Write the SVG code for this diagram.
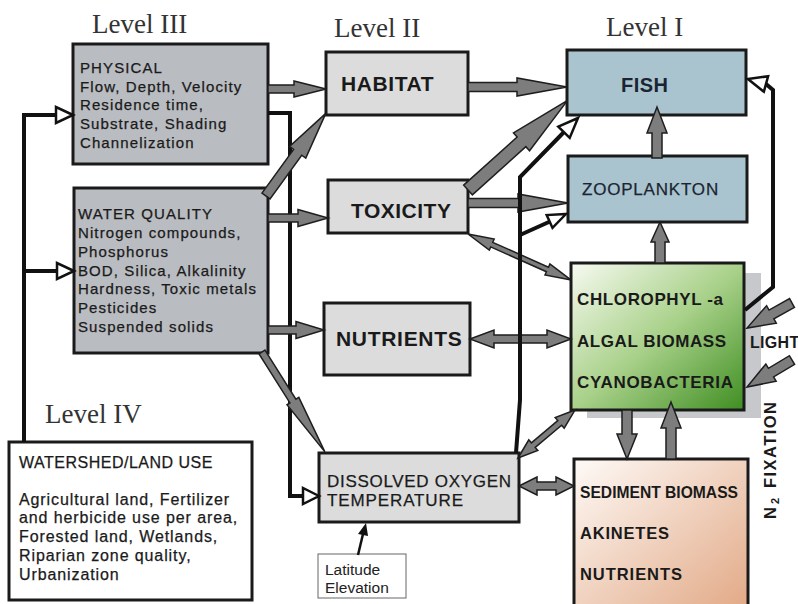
<svg xmlns="http://www.w3.org/2000/svg" width="798" height="604" viewBox="0 0 798 604">
<defs>
<linearGradient id="gAlg" x1="0" y1="0" x2="1" y2="1">
<stop offset="0" stop-color="#f7faf1"/>
<stop offset="0.5" stop-color="#a9d18a"/>
<stop offset="1" stop-color="#3f8e22"/>
</linearGradient>
<linearGradient id="gSed" x1="0" y1="0" x2="1" y2="1">
<stop offset="0" stop-color="#fefaf7"/>
<stop offset="1" stop-color="#e2a986"/>
</linearGradient>
<style>
.box{stroke:#1a1a1a;stroke-width:3}
.dark{fill:#b9bcc1}
.light{fill:#dcdcdc}
.blue{fill:#a9c4ce}
.lvl{font-family:"Liberation Serif","Times New Roman",serif;font-size:27px;fill:#333}
.t{font-family:"Liberation Sans",Arial,sans-serif;font-size:15px;letter-spacing:1.1px;fill:#1a1a1a;stroke:#1a1a1a;stroke-width:0.25px}
.w{font-family:"Liberation Sans",Arial,sans-serif;font-size:16px;letter-spacing:0.9px;fill:#1a1a1a;stroke:#1a1a1a;stroke-width:0.25px}
.big{font-family:"Liberation Sans",Arial,sans-serif;font-size:21px;font-weight:bold;letter-spacing:0.6px;fill:#1a1a1a}
.b16{font-family:"Liberation Sans",Arial,sans-serif;font-size:17px;font-weight:bold;fill:#1a1a1a}
.b15{font-family:"Liberation Sans",Arial,sans-serif;font-size:16.5px;font-weight:bold;fill:#1a1a1a}
.rot{font-family:"Liberation Sans",Arial,sans-serif;font-weight:bold;fill:#1a1a1a}
.ga{fill:#7d7d7d;stroke:#1e1e1e;stroke-width:1.5;stroke-linejoin:miter}
.bl{fill:none;stroke:#111;stroke-width:4;stroke-linejoin:miter}
.oh{fill:#fff;stroke:#111;stroke-width:2.5;stroke-linejoin:miter}
</style>
</defs>
<rect width="798" height="604" fill="#fff"/>

<text class="lvl" x="92" y="33">Level III</text>
<text class="lvl" x="334" y="37">Level II</text>
<text class="lvl" x="606" y="36">Level I</text>
<text class="lvl" x="45" y="423">Level IV</text>

<g id="physical">
<rect class="box dark" x="73" y="44" width="195" height="120"/>
<text class="t" x="80" y="73">PHYSICAL</text>
<text class="t" x="80" y="92">Flow, Depth, Velocity</text>
<text class="t" x="80" y="110">Residence time,</text>
<text class="t" x="80" y="129">Substrate, Shading</text>
<text class="t" x="80" y="148">Channelization</text>
</g>

<g id="waterquality">
<rect class="box dark" x="74" y="188" width="194" height="165"/>
<text class="t" x="78" y="219">WATER QUALITY</text>
<text class="t" x="78" y="238">Nitrogen compounds,</text>
<text class="t" x="78" y="257">Phosphorus</text>
<text class="t" x="78" y="276">BOD, Silica, Alkalinity</text>
<text class="t" x="78" y="294">Hardness, Toxic metals</text>
<text class="t" x="78" y="313">Pesticides</text>
<text class="t" x="78" y="332">Suspended solids</text>
</g>

<g id="watershed">
<rect class="box" fill="#fff" x="9" y="442" width="243" height="158"/>
<text class="w" x="19" y="468" style="letter-spacing:0.5px">WATERSHED/LAND USE</text>
<text class="w" x="19" y="505">Agricultural land, Fertilizer</text>
<text class="w" x="19" y="523">and herbicide use per area,</text>
<text class="w" x="19" y="542">Forested land, Wetlands,</text>
<text class="w" x="19" y="561">Riparian zone quality,</text>
<text class="w" x="19" y="580">Urbanization</text>
</g>

<g id="habitat">
<rect class="box light" x="326" y="52" width="142" height="63"/>
<text class="big" x="341" y="91">HABITAT</text>
</g>

<g id="toxicity">
<rect class="box light" x="328" y="180" width="140" height="53"/>
<text class="big" x="351" y="218" style="letter-spacing:0.5px">TOXICITY</text>
</g>

<g id="nutrients">
<rect class="box light" x="324" y="303" width="146" height="72"/>
<text class="big" x="336" y="346" style="letter-spacing:0.7px">NUTRIENTS</text>
</g>

<g id="dissolved-oxygen">
<rect class="box light" x="319" y="453" width="200" height="69"/>
<text class="w" x="327" y="487" style="font-size:17px;letter-spacing:0" textLength="184" lengthAdjust="spacing">DISSOLVED OXYGEN</text>
<text class="w" x="327" y="506" style="font-size:17px;letter-spacing:0" textLength="136" lengthAdjust="spacing">TEMPERATURE</text>
</g>

<g id="latitude">
<rect x="318" y="554" width="88" height="44" fill="#fff" stroke="#666" stroke-width="1"/>
<text x="325" y="575" font-family="Liberation Sans, Arial, sans-serif" font-size="15.5" fill="#222">Latitude</text>
<text x="325" y="593" font-family="Liberation Sans, Arial, sans-serif" font-size="15.5" fill="#222">Elevation</text>
</g>

<g id="fish">
<rect class="box blue" x="567" y="50" width="179" height="65"/>
<text x="621" y="92" font-family="Liberation Sans, Arial, sans-serif" font-size="20" font-weight="bold" letter-spacing="0.5" fill="#1c2433">FISH</text>
</g>

<g id="zooplankton">
<rect class="box blue" x="568" y="156" width="179" height="66"/>
<text x="582" y="195" font-family="Liberation Sans, Arial, sans-serif" font-size="17" letter-spacing="0.8" fill="#1c2433" stroke="#1c2433" stroke-width="0.25">ZOOPLANKTON</text>
</g>

<g id="algae">
<rect x="587" y="273" width="174" height="145" fill="#c6c8cc"/>
<rect class="box" fill="url(#gAlg)" x="571" y="263" width="173" height="147"/>
<text class="b16" x="577" y="305" textLength="146" lengthAdjust="spacing">CHLOROPHYL -a</text>
<text class="b16" x="577" y="347" textLength="149" lengthAdjust="spacing">ALGAL BIOMASS</text>
<text class="b16" x="577" y="388" textLength="156" lengthAdjust="spacing">CYANOBACTERIA</text>
</g>

<g id="sediment">
<rect class="box" fill="url(#gSed)" x="574" y="459" width="174" height="150"/>
<text class="b15" x="580" y="498" textLength="158" lengthAdjust="spacingAndGlyphs">SEDIMENT BIOMASS</text>
<text class="b15" x="580" y="539" textLength="89" lengthAdjust="spacing">AKINETES</text>
<text class="b15" x="580" y="580" textLength="102" lengthAdjust="spacing">NUTRIENTS</text>
</g>

<g id="light-label">
<text x="750" y="348" font-family="Liberation Sans, Arial, sans-serif" font-size="16" font-weight="bold" letter-spacing="0.3" fill="#1a1a1a">LIGHT</text>
</g>
<g id="n2-fixation" transform="translate(776,519) rotate(-90)">
<text class="rot" x="0" y="0" font-size="16.5">N</text>
<text class="rot" x="15" y="3" font-size="11">2</text>
<text class="rot" x="31" y="0" font-size="16.5" textLength="86" lengthAdjust="spacing">FIXATION</text>
</g>

<g id="connectors">
<path class="bl" d="M24,442 V115 H57"/>
<polygon class="oh" points="73,115 56,107 56,123"/>
<path class="bl" d="M24,271 H58"/>
<polygon class="oh" points="74,271 57,263 57,279"/>
<path class="bl" d="M268,113 H290 V496 H304"/>
<polygon class="oh" points="319,496 303,488 303,504"/>

<path class="ga" transform="translate(268,89)" d="M0,-4 H26 V-8 L58,0 L26,8 V4 H0 Z"/>
<path class="ga" transform="translate(468,87)" d="M0,-4.5 H49 V-9 L99,0 L49,9 V4.5 H0 Z"/>
<path class="ga" transform="translate(268,218)" d="M0,-4 H30 V-8.5 L60,0 L30,8.5 V4 H0 Z"/>
<path class="ga" transform="translate(468,203)" d="M0,-4.5 H50 V-9 L100,0 L50,9 V4.5 H0 Z"/>
<path class="ga" transform="translate(268,330)" d="M0,-4 H28 V-8.5 L56,0 L28,8.5 V4 H0 Z"/>
<path class="ga" transform="translate(266,196) rotate(-54.1)" d="M0,-5 H54 V-10 L102,0 L54,10 V5 H0 Z"/>
<path class="ga" transform="translate(468,190) rotate(-42)" d="M0,-6.5 H72 V-12 L134,0 L72,12 V6.5 H0 Z"/>
<path class="ga" transform="translate(262,352) rotate(57.8)" d="M0,-3.5 H58 V-7 L118,0 L58,7 V3.5 H0 Z"/>

<path class="ga" transform="translate(468,234) rotate(24.06)" d="M0,0 L26,-6 V-2.5 H87 V-6 L113,0 L87,6 V2.5 H26 V6 Z"/>
<path class="ga" transform="translate(470,339)" d="M0,0 L24,-9 V-4 H77 V-9 L101,0 L77,9 V4 H24 V9 Z"/>
<path class="ga" transform="translate(518,458) rotate(-40.1)" d="M0,0 L20,-7 V-3 H54.5 V-7 L74.5,0 L54.5,7 V3 H20 V7 Z"/>
<path class="ga" transform="translate(519,486)" d="M0,0 L18,-9 V-4 H37 V-9 L55,0 L37,9 V4 H18 V9 Z"/>

<path class="ga" transform="translate(627,410) rotate(90)" d="M0,-5 H24 V-10 L49,0 L24,10 V5 H0 Z"/>
<path class="ga" transform="translate(671,459) rotate(-90)" d="M0,-5 H31 V-10 L57,0 L31,10 V5 H0 Z"/>
<path class="ga" transform="translate(660,263) rotate(-90)" d="M0,-5 H21 V-9 L41,0 L21,9 V5 H0 Z"/>
<path class="ga" transform="translate(657,158) rotate(-90)" d="M0,-5 H25 V-10 L51,0 L25,10 V5 H0 Z"/>

<path class="ga" transform="translate(792,303) rotate(150.9)" d="M0,-5 H23.5 V-10 L51.5,0 L23.5,10 V5 H0 Z"/>
<path class="ga" transform="translate(792,360) rotate(149)" d="M0,-5 H24.5 V-10 L52.5,0 L24.5,10 V5 H0 Z"/>

<path class="bl" d="M516,453 L520,400 V177 L564,132"/>
<polygon class="oh" points="578,118 569.7,137.9 558.3,126.7"/>
<path class="bl" d="M520,235 L550,221.5"/>
<polygon class="oh" points="566,214 552.5,227.9 546.7,215.1"/>
<path class="bl" d="M745,310 L773,287 V90 L766,84"/>
<polygon class="oh" points="748,79 768.1,76.3 763.9,91.7"/>

<path d="M358,555 L363,534" stroke="#111" stroke-width="2.5" fill="none"/>
<polygon points="366,523 368,536 358,534" fill="#111"/>
</g>
</svg>
